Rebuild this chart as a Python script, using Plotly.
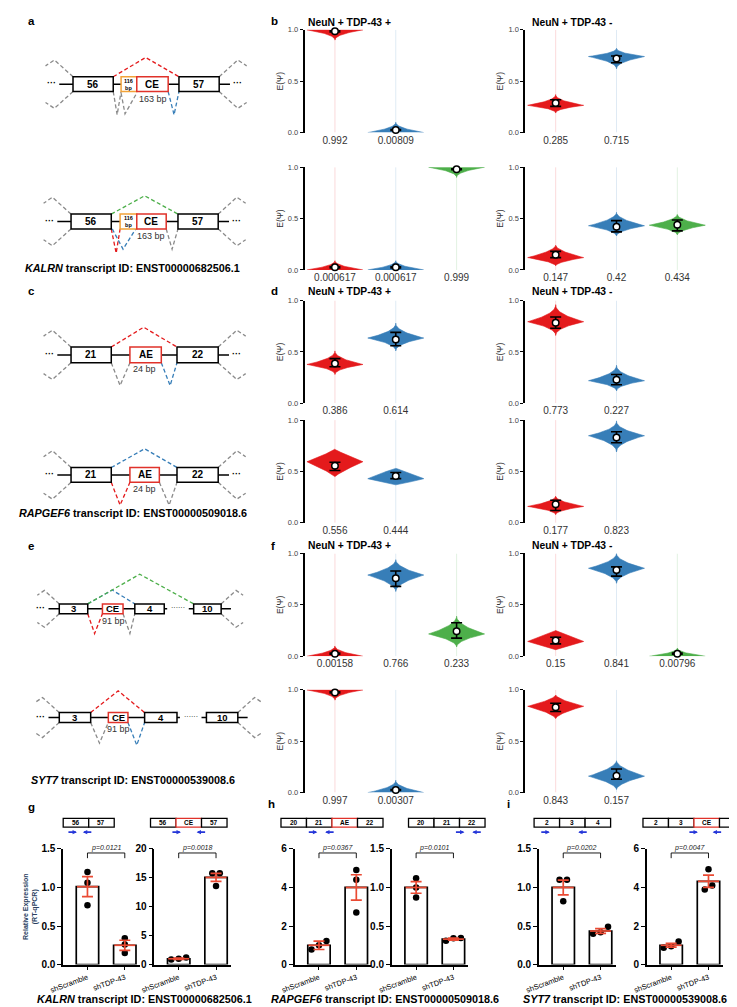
import plotly.graph_objects as go

W, H = 737, 1007
FONT = "Arial, 'Liberation Sans', Helvetica, sans-serif"
COL = {"r": "#e41a1c", "b": "#377eb8", "g": "#4daf4a"}
FAINT = {"r": "rgba(228,26,28,0.16)", "b": "rgba(55,126,184,0.16)", "g": "rgba(77,175,74,0.16)"}
ERR_RED = "#ea4a33"
GRAY = "#8a8a8a"
ORANGE = "#f2a33a"
PRIMER = "#2536d8"

# ======================= DATA =======================
# Violin panels: body = (low tail, mode, high tail, taper), mean marker, error (low, high)
b1_labels = ["0.992", "0.00809"]; b1_colors = ["r", "b"]
b1_body = [(0.90, 1.00, 1.00, 2.2), (0.00, 0.00, 0.10, 2.2)]
b1_mean = [0.985, 0.025]; b1_err = [(0.98, 0.99), (0.02, 0.03)]

b2_labels = ["0.285", "0.715"]; b2_colors = ["r", "b"]
b2_body = [(0.19, 0.265, 0.37, 2.2), (0.62, 0.74, 0.82, 2.2)]
b2_mean = [0.288, 0.722]; b2_err = [(0.255, 0.32), (0.68, 0.745)]

b3_labels = ["0.000617", "0.000617", "0.999"]; b3_colors = ["r", "b", "g"]
b3_body = [(0.0, 0.0, 0.09, 2.2), (0.0, 0.0, 0.09, 2.2), (0.90, 1.0, 1.0, 2.2)]
b3_mean = [0.025, 0.025, 0.98]; b3_err = [(0.02, 0.03), (0.02, 0.03), (0.975, 0.985)]

b4_labels = ["0.147", "0.42", "0.434"]; b4_colors = ["r", "b", "g"]
b4_body = [(0.04, 0.12, 0.24, 1.8), (0.33, 0.43, 0.56, 2.0), (0.34, 0.435, 0.54, 2.0)]
b4_mean = [0.147, 0.42, 0.44]; b4_err = [(0.12, 0.18), (0.37, 0.48), (0.38, 0.485)]

d1_labels = ["0.386", "0.614"]; d1_colors = ["r", "b"]
d1_body = [(0.28, 0.378, 0.51, 2.2), (0.51, 0.635, 0.78, 2.2)]
d1_mean = [0.387, 0.62]; d1_err = [(0.356, 0.435), (0.56, 0.69)]

d2_labels = ["0.773", "0.227"]; d2_colors = ["r", "b"]
d2_body = [(0.66, 0.794, 0.96, 2.2), (0.12, 0.22, 0.37, 2.2)]
d2_mean = [0.785, 0.23]; d2_err = [(0.73, 0.84), (0.18, 0.28)]

d3_labels = ["0.556", "0.444"]; d3_colors = ["r", "b"]
d3_body = [(0.45, 0.595, 0.72, 1.2), (0.37, 0.43, 0.53, 0.9)]
d3_mean = [0.555, 0.455]; d3_err = [(0.51, 0.59), (0.43, 0.49)]

d4_labels = ["0.177", "0.823"]; d4_colors = ["r", "b"]
d4_body = [(0.08, 0.16, 0.26, 2.0), (0.69, 0.848, 0.99, 2.2)]
d4_mean = [0.18, 0.83]; d4_err = [(0.12, 0.22), (0.78, 0.886)]

f1_labels = ["0.00158", "0.766", "0.233"]; f1_colors = ["r", "b", "g"]
f1_body = [(0.0, 0.0, 0.10, 2.2), (0.63, 0.79, 0.94, 2.0), (0.09, 0.217, 0.39, 2.0)]
f1_mean = [0.025, 0.76, 0.243]; f1_err = [(0.02, 0.03), (0.68, 0.83), (0.176, 0.326)]

f2_labels = ["0.15", "0.841", "0.00796"]; f2_colors = ["r", "b", "g"]
f2_body = [(0.064, 0.144, 0.25, 1.0), (0.71, 0.856, 1.0, 2.0), (0.0, 0.0, 0.08, 2.2)]
f2_mean = [0.153, 0.84, 0.025]; f2_err = [(0.12, 0.185), (0.78, 0.87), (0.02, 0.03)]

f3_labels = ["0.997", "0.00307"]; f3_colors = ["r", "b"]
f3_body = [(0.90, 1.0, 1.0, 2.2), (0.0, 0.0, 0.12, 2.2)]
f3_mean = [0.975, 0.025]; f3_err = [(0.97, 0.98), (0.02, 0.03)]

f4_labels = ["0.843", "0.157"]; f4_colors = ["r", "b"]
f4_body = [(0.72, 0.84, 0.95, 1.6), (0.03, 0.16, 0.31, 1.8)]
f4_mean = [0.83, 0.165]; f4_err = [(0.79, 0.87), (0.13, 0.23)]

# RT-qPCR bar panels (g, h, i)
groups = ["shScramble", "shTDP-43"]
g1_mean = [1.01, 0.25]; g1_sem = [0.13, 0.065]; g1_pts = [[1.2, 1.06, 0.77], [0.34, 0.26, 0.15]]; g1_p = "0.0121"
g2_mean = [1.0, 15.07]; g2_sem = [0.12, 0.7]; g2_pts = [[0.85, 1.0, 1.2], [15.8, 15.8, 13.6]]; g2_p = "0.0018"
h1_mean = [1.0, 4.0]; h1_sem = [0.22, 0.66]; h1_pts = [[1.22, 1.0, 0.78], [4.9, 4.4, 2.7]]; h1_p = "0.0367"
h2_mean = [1.0, 0.33]; h2_sem = [0.075, 0.012]; h2_pts = [[1.12, 1.0, 0.87], [0.31, 0.34, 0.345]]; h2_p = "0.0101"
i1_mean = [1.0, 0.435]; i1_sem = [0.095, 0.03]; i1_pts = [[1.1, 1.1, 0.82], [0.49, 0.42, 0.40]]; i1_p = "0.0202"
i2_mean = [1.0, 4.32]; i2_sem = [0.1, 0.32]; i2_pts = [[1.2, 0.95, 0.87], [4.95, 4.1, 3.9]]; i2_p = "0.0047"

# primer schematic exons
g1_exons = ["56", "57"]; g2_exons = ["56", "CE", "57"]
h1_exons = ["20", "21", "AE", "22"]; h2_exons = ["20", "21", "22"]
i1_exons = ["2", "3", "4"]; i2_exons = ["2", "3", "CE", "4"]

# ======================= LAYOUT HELPERS =======================
fig = go.Figure()
shapes, annotations = [], []
layout_axes = {}


def xd(a, b):
    return [a / W, b / W]


def yd(top, bottom):
    return [1 - bottom / H, 1 - top / H]


def pth(pts, color, width=1.3, dash="4px,2.5px"):
    d = "M" + " L".join(f"{x / W:.5f},{1 - y / H:.5f}" for x, y in pts)
    shapes.append(dict(type="path", path=d, xref="paper", yref="paper",
                       line=dict(color=color, width=width, dash=dash)))


def box(x0, x1, y0, y1, color="black", width=1.5):
    shapes.append(dict(type="rect", x0=x0 / W, x1=x1 / W, y0=1 - y1 / H, y1=1 - y0 / H,
                       xref="paper", yref="paper", line=dict(color=color, width=width),
                       fillcolor="white"))


def txt(x, y, s, size=9, bold=False, color="black", xa="center", ya="middle"):
    annotations.append(dict(x=x / W, y=1 - y / H, xref="paper", yref="paper", text=s,
                            showarrow=False, xanchor=xa, yanchor=ya,
                            font=dict(size=size, color=color, family=FONT,
                                      weight="bold" if bold else "normal")))


def arrow(head, tail, y):
    annotations.append(dict(x=head / W, y=1 - y / H, xref="paper", yref="paper", text="",
                            showarrow=True, ax=tail - head, ay=0, arrowhead=2,
                            arrowsize=0.55, arrowwidth=1.6, arrowcolor=PRIMER))


def ax_names(n):
    s = "" if n == 1 else str(n)
    return "x" + s, "y" + s, "xaxis" + s, "yaxis" + s


HALF_W = 0.46


def outline(i, lo, mode, hi, p, n=30):
    ys = sorted(set([mode + (hi - mode) * k / n for k in range(n + 1)] +
                    [mode - (mode - lo) * k / n for k in range(n + 1)]))

    def hw(y):
        d = (hi - mode) if y >= mode else (mode - lo)
        if d == 0:
            return HALF_W
        t = min(abs(y - mode) / d, 1.0)
        return HALF_W * (1 - t) ** p

    xs = [i + hw(y) for y in ys] + [i - hw(y) for y in reversed(ys)]
    yy = ys + list(reversed(ys))
    return xs, yy


def violin_panel(n, xdom, ydom, labels, colors, body, mean, err):
    xa, ya, xk, yk = ax_names(n)
    for i, (c, b, m, e) in enumerate(zip(colors, body, mean, err)):
        fig.add_trace(go.Scatter(x=[i, i], y=[0, 1], mode="lines", line=dict(color=FAINT[c], width=1),
                                 xaxis=xa, yaxis=ya, hoverinfo="skip", showlegend=False))
        vx, vy = outline(i, *b)
        fig.add_trace(go.Scatter(x=vx, y=vy, mode="lines", fill="toself", fillcolor=COL[c],
                                 line=dict(color=COL[c], width=0.6), xaxis=xa, yaxis=ya,
                                 hoverinfo="skip", showlegend=False))
        fig.add_trace(go.Scatter(x=[i], y=[m], mode="markers", xaxis=xa, yaxis=ya, showlegend=False,
                                 marker=dict(color="white", size=6.5, line=dict(color="black", width=1.5)),
                                 error_y=dict(type="data", symmetric=False, array=[e[1] - m],
                                              arrayminus=[m - e[0]], color="black", thickness=1.6, width=5.5),
                                 cliponaxis=False))
    layout_axes[xk] = dict(domain=xdom, anchor=ya, range=[-0.5, 2.5], tickvals=list(range(len(labels))),
                           ticktext=labels, showline=False, ticks="", showgrid=False, zeroline=False,
                           tickfont=dict(size=10, color="#333", family=FONT))
    layout_axes[yk] = dict(domain=ydom, anchor=xa, range=[0, 1], tickvals=[0, 0.5, 1],
                           ticktext=["0.0", "0.5", "1.0"], showline=True, linecolor="black", linewidth=1.7,
                           ticks="outside", ticklen=3, tickwidth=1.2, tickcolor="black",
                           showgrid=False, zeroline=False, tickfont=dict(size=7.5, color="#444", family=FONT),
                           title=dict(text="E(Ψ)", font=dict(size=8.5, color="#333", family=FONT), standoff=3))


def spread(vals, tol):
    order = sorted(range(len(vals)), key=lambda k: vals[k])
    offs = [0.0] * len(vals)
    clusters, cur = [], [order[0]]
    for k in order[1:]:
        if abs(vals[k] - vals[cur[-1]]) <= tol:
            cur.append(k)
        else:
            clusters.append(cur)
            cur = [k]
    clusters.append(cur)
    for cl in clusters:
        m = len(cl)
        for j, k in enumerate(cl):
            offs[k] = (j - (m - 1) / 2) * 0.2
    return offs


def bar_panel(n, x0, means, sem, pts, ymax, tickvals, ticktext, pval, ytitle=None):
    xa, ya, xk, yk = ax_names(n)
    fig.add_trace(go.Bar(x=[0, 1], y=means, width=0.6, marker=dict(color="white", line=dict(color="black", width=1.7)),
                         xaxis=xa, yaxis=ya, showlegend=False, hoverinfo="skip"))
    for gi, gp in enumerate(pts):
        offs = spread(gp, 0.05 * ymax)
        fig.add_trace(go.Scatter(x=[gi + o for o in offs], y=gp, mode="markers", xaxis=xa, yaxis=ya,
                                 marker=dict(color="black", size=6.5), showlegend=False, cliponaxis=False))
    fig.add_trace(go.Scatter(x=[0, 1], y=means, mode="markers", xaxis=xa, yaxis=ya, showlegend=False,
                             marker=dict(symbol="line-ew", size=15, line=dict(color=ERR_RED, width=1.7)),
                             error_y=dict(type="data", array=sem, color=ERR_RED, thickness=1.7, width=5.5),
                             cliponaxis=False))
    hgt, dd = 0.965 * ymax, 0.045 * ymax
    fig.add_trace(go.Scatter(x=[0, 0, 1, 1], y=[hgt - dd, hgt, hgt, hgt - dd], mode="lines", xaxis=xa, yaxis=ya,
                             line=dict(color="black", width=0.9), showlegend=False, hoverinfo="skip",
                             cliponaxis=False))
    annotations.append(dict(x=0.5, y=hgt, xref=xa, yref=ya, text=f"<i>p</i>=<i>{pval}</i>", showarrow=False,
                            yanchor="bottom", yshift=-1, font=dict(size=7, family=FONT, color="#222")))
    layout_axes[xk] = dict(domain=xd(x0, x0 + 78), anchor=ya, range=[-0.65, 1.4], tickvals=[0, 1],
                           ticktext=groups, tickangle=-20, showline=True, linecolor="black", linewidth=1.7,
                           ticks="outside", ticklen=4, tickwidth=1.4, tickcolor="black", showgrid=False,
                           zeroline=False, tickfont=dict(size=7.5, family=FONT, color="black"))
    yax = dict(domain=yd(845, 962), anchor=xa, range=[0, ymax], tickvals=tickvals, ticktext=ticktext,
               showline=True, linecolor="black", linewidth=1.7, ticks="outside", ticklen=4, tickwidth=1.4,
               tickcolor="black", showgrid=False, zeroline=False,
               tickfont=dict(size=10, family=FONT, color="black", weight="bold"))
    if ytitle:
        yax["title"] = dict(text=ytitle, font=dict(size=7, family=FONT, weight="bold"), standoff=3)
    layout_axes[yk] = yax


# ======================= VIOLINS =======================
VX = {"L": xd(288, 474), "R": xd(513, 699)}
ROWS = [yd(16, 120), yd(155, 259), yd(290, 394), yd(411, 515), yd(546, 650), yd(684, 788)]

violin_panel(1, VX["L"], ROWS[0], b1_labels, b1_colors, b1_body, b1_mean, b1_err)
violin_panel(2, VX["R"], ROWS[0], b2_labels, b2_colors, b2_body, b2_mean, b2_err)
violin_panel(3, VX["L"], ROWS[1], b3_labels, b3_colors, b3_body, b3_mean, b3_err)
violin_panel(4, VX["R"], ROWS[1], b4_labels, b4_colors, b4_body, b4_mean, b4_err)
violin_panel(5, VX["L"], ROWS[2], d1_labels, d1_colors, d1_body, d1_mean, d1_err)
violin_panel(6, VX["R"], ROWS[2], d2_labels, d2_colors, d2_body, d2_mean, d2_err)
violin_panel(7, VX["L"], ROWS[3], d3_labels, d3_colors, d3_body, d3_mean, d3_err)
violin_panel(8, VX["R"], ROWS[3], d4_labels, d4_colors, d4_body, d4_mean, d4_err)
violin_panel(9, VX["L"], ROWS[4], f1_labels, f1_colors, f1_body, f1_mean, f1_err)
violin_panel(10, VX["R"], ROWS[4], f2_labels, f2_colors, f2_body, f2_mean, f2_err)
violin_panel(11, VX["L"], ROWS[5], f3_labels, f3_colors, f3_body, f3_mean, f3_err)
violin_panel(12, VX["R"], ROWS[5], f4_labels, f4_colors, f4_body, f4_mean, f4_err)

for ty in (9, 281, 538):
    txt(334, ty, "NeuN + TDP-43 +", size=10.3, bold=True)
    txt(561, ty, "NeuN + TDP-43 -", size=10.3, bold=True)

# ======================= BARS =======================
T15 = ([0, 0.5, 1.0, 1.5], ["0.0", "0.5", "1.0", "1.5"])
T20 = ([0, 5, 10, 15, 20], ["0", "5", "10", "15", "20"])
T6 = ([0, 2, 4, 6], ["0", "2", "4", "6"])
bar_panel(13, 42, g1_mean, g1_sem, g1_pts, 1.5, *T15, g1_p, ytitle="Relative Expression<br>(RT-qPCR)")
bar_panel(14, 135, g2_mean, g2_sem, g2_pts, 20, *T20, g2_p)
bar_panel(15, 278, h1_mean, h1_sem, h1_pts, 6, *T6, h1_p)
bar_panel(16, 377, h2_mean, h2_sem, h2_pts, 1.5, *T15, h2_p)
bar_panel(17, 527, i1_mean, i1_sem, i1_pts, 1.5, *T15, i1_p)
bar_panel(18, 637, i2_mean, i2_sem, i2_pts, 6, *T6, i2_p)


def primer_map(x0, exons, fwd, rev):
    for k, lab in enumerate(exons):
        c = "#e0322a" if lab in ("CE", "AE") else "black"
        box(x0 + 26 * k, x0 + 26 * (k + 1), 814, 823, color=c, width=1.3)
        txt(x0 + 26 * k + 13, 818.5, lab, size=6.5, bold=True)
    arrow(fwd + 10, fwd, 828)
    arrow(rev - 10, rev, 828)


primer_map(42, g1_exons, 46, 72)
primer_map(131, g2_exons, 152, 188)
primer_map(264, h1_exons, 291, 319)
primer_map(394, h2_exons, 441, 469)
primer_map(522, i1_exons, 528, 577)
primer_map(633, i2_exons, 679, 714)

txt(125, 997, "<i>KALRN</i> transcript ID: ENST00000682506.1", size=10.8, bold=True)
txt(370, 997, "<i>RAPGEF6</i> transcript ID: ENST00000509018.6", size=10.8, bold=True)
txt(615, 997, "<i>SYT7</i> transcript ID: ENST00000539008.6", size=10.8, bold=True)

# ======================= SPLICING SCHEMATICS =======================


def gene(yc, hh, exons, span, gap=None, dots_right=True, bscale=1.0):
    xl, xr = span
    if gap:
        pth([(xl, yc), (gap[0], yc)], "black", 1.5, None)
        pth([(gap[1], yc), (xr, yc)], "black", 1.5, None)
        txt((gap[0] + gap[1]) / 2, yc - 1, "······", size=7)
    else:
        pth([(xl, yc), (xr, yc)], "black", 1.5, None)
    txt(xl - 8, yc - 1, "···", size=9, bold=True)
    if dots_right:
        txt(xr + 8, yc - 1, "···", size=9, bold=True)
    e0, e1 = exons[0][1], exons[-1][2]
    a, b, c, d = 19 * bscale, 17 * bscale, 9 * bscale, 6 * bscale
    pth([(e0, yc - hh), (e0 - a, yc - hh - b), (e0 - a - c, yc - hh - b + d)], GRAY)
    pth([(e0, yc + hh), (e0 - a, yc + hh + b), (e0 - a - c, yc + hh + b - d)], GRAY)
    pth([(e1, yc - hh), (e1 + a, yc - hh - b), (e1 + a + c, yc - hh - b + d)], GRAY)
    pth([(e1, yc + hh), (e1 + a, yc + hh + b), (e1 + a + c, yc + hh + b - d)], GRAY)
    return exons


def draw_exons(yc, hh, exons, fs=10):
    for lab, x0, x1, kind in exons:
        c = {"k": "black", "r": "#e0322a", "o": ORANGE}[kind]
        box(x0, x1, yc - hh, yc + hh, color=c, width=1.5)
        if kind == "o":
            txt((x0 + x1) / 2, yc, lab, size=5.5, bold=True)
        else:
            txt((x0 + x1) / 2, yc, lab, size=fs, bold=True)


def junc(x0, xv, x1, ybase, ypeak, color):
    pth([(x0, ybase), (xv, ypeak), (x1, ybase)], color)


# a (top)
ex = [("56", 52, 93, "k"), ("116<br>bp", 101, 117, "o"), ("CE", 117, 149, "r"), ("57", 160, 201, "k")]
gene(71, 7.5, ex, (38, 212))
junc(93, 126, 160, 63.5, 44, COL["r"])
junc(93, 97, 101, 78.5, 102, GRAY)
junc(101, 105, 117, 80, 101, GRAY)
junc(149, 155, 160, 78.5, 102, COL["b"])
draw_exons(71, 7.5, ex)
txt(134, 86, "163 bp", size=9, color="#333")

# a (bottom)
ex = [("56", 50, 91, "k"), ("116<br>bp", 100, 117, "o"), ("CE", 117, 147, "r"), ("57", 159, 200, "k")]
gene(210, 7.5, ex, (36, 211))
junc(91, 125, 159, 202.5, 184, COL["g"])
junc(91, 96, 100, 217.5, 242, COL["r"])
junc(92, 103, 116, 217.5, 238, COL["b"])
junc(147, 153, 159, 217.5, 238, GRAY)
draw_exons(210, 7.5, ex)
txt(132, 225, "163 bp", size=9, color="#333")
txt(113, 257, "<i>KALRN</i> transcript ID: ENST00000682506.1", size=10.8, bold=True)

# c (top)
ex = [("21", 50, 91, "k"), ("AE", 110, 142, "r"), ("22", 158, 200, "k")]
gene(345, 8, ex, (36, 211))
junc(91, 124, 158, 337, 317, COL["r"])
junc(91, 100, 110, 353, 376, GRAY)
junc(142, 151, 158, 353, 376, COL["b"])
draw_exons(345, 8, ex)
txt(125, 359, "24 bp", size=9, color="#333")

# c (bottom)
ex = [("21", 50, 91, "k"), ("AE", 110, 140, "r"), ("22", 158, 200, "k")]
gene(466.5, 7.5, ex, (36, 211))
junc(91, 125, 158, 459, 440, COL["b"])
junc(91, 100, 110, 474, 497, COL["r"])
junc(140, 150, 158, 474, 497, GRAY)
draw_exons(466.5, 7.5, ex)
txt(125, 481, "24 bp", size=9, color="#333")
txt(113, 505, "<i>RAPGEF6</i> transcript ID: ENST00000509018.6", size=10.8, bold=True)

# e (top)
ex = [("3", 38, 67, "k"), ("CE", 82, 103, "r"), ("4", 115, 145, "k"), ("10", 175, 203, "k")]
gene(602, 5, ex, (27, 213), gap=(148, 170), dots_right=False, bscale=0.8)
junc(67, 92, 115, 597, 583, COL["b"])
junc(67, 120, 175, 597, 567, COL["g"])
junc(67, 74, 82, 607, 627, COL["r"])
junc(103, 110, 115, 607, 627, GRAY)
draw_exons(602, 5, ex, fs=9.5)
txt(93, 614, "91 bp", size=9, color="#333")

# e (bottom)
ex = [("3", 38, 70, "k"), ("CE", 88, 108, "r"), ("4", 125, 158, "k"), ("10", 188, 220, "k")]
gene(712, 5, ex, (27, 230), gap=(161, 183), dots_right=False, bscale=0.9)
junc(70, 98, 125, 707, 685, COL["r"])
junc(70, 79, 88, 717, 738, GRAY)
junc(108, 117, 125, 717, 740, COL["b"])
draw_exons(712, 5, ex, fs=9.5)
txt(98, 724, "91 bp", size=9, color="#333")
txt(113, 775, "<i>SYT7</i> transcript ID: ENST00000539008.6", size=10.8, bold=True)

# panel letters
for lab, x, y in [("a", 4, 7), ("b", 252, 7), ("c", 4, 280), ("d", 252, 280), ("e", 4, 538),
                  ("f", 252, 538), ("g", 4, 803), ("h", 249, 800), ("i", 492, 800)]:
    txt(x, y, lab, size=11.5, bold=True, xa="left")

fig.update_layout(width=W, height=H, autosize=False, margin=dict(l=0, r=0, t=0, b=0),
                  paper_bgcolor="white", plot_bgcolor="white", showlegend=False,
                  font=dict(family=FONT), shapes=shapes, annotations=annotations, **layout_axes)
fig.write_html("out.html")
